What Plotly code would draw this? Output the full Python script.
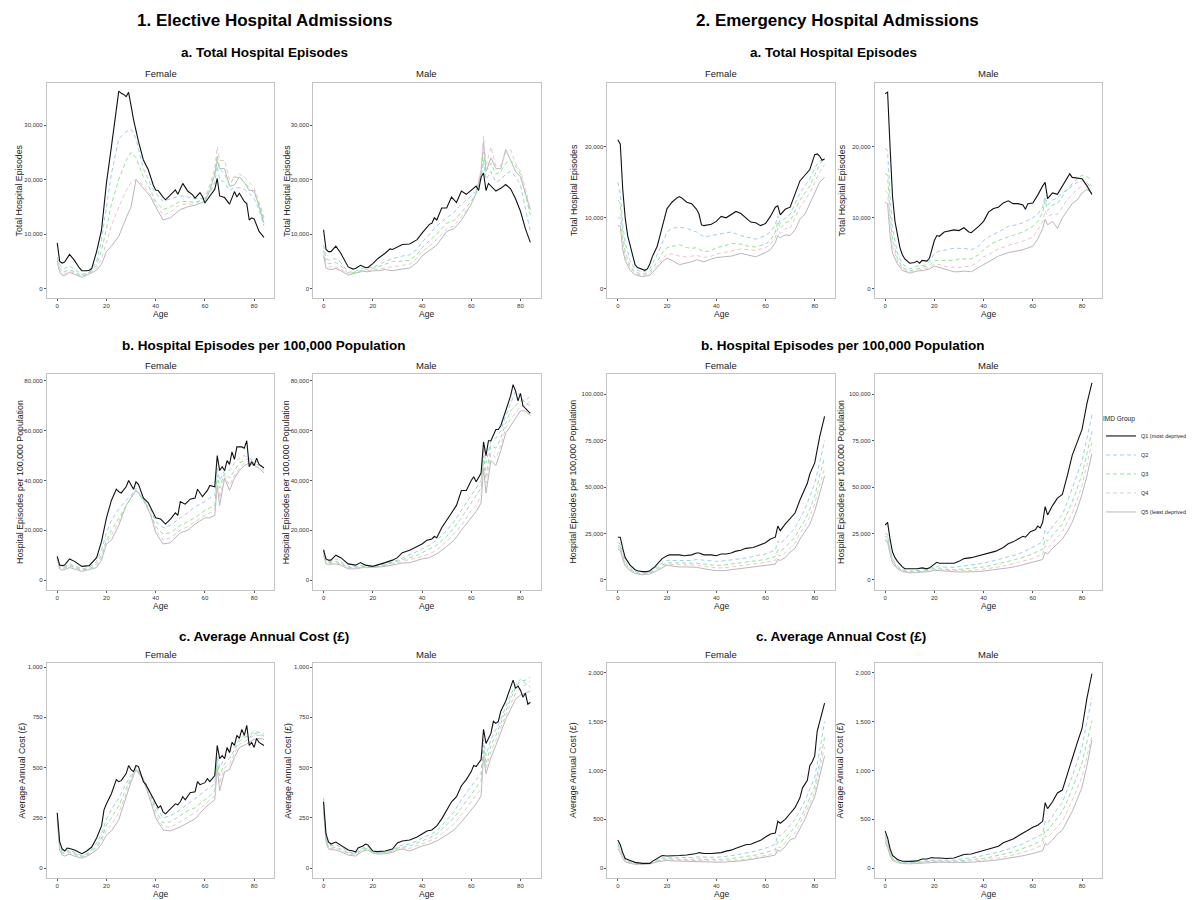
import plotly.graph_objects as go

# ---------------- DATA ----------------
# Common age grid used for Q2-Q5 series
AGES = [0, 1, 2, 3, 5, 7, 10, 13, 16, 18, 20, 22, 25, 28, 30, 32, 35, 38, 40, 43,
        46, 50, 53, 56, 60, 62, 64, 65, 66, 68, 70, 72, 74, 76, 78, 80, 82, 84]

GROUPS = ["Q1 (most deprived)", "Q2", "Q3", "Q4", "Q5 (least deprived)"]
SEXES = ["Female", "Male"]

# ---- 1a Elective, Total Hospital Episodes (thousands) ----
el_tot_f_q1_age = [0,1,2,3,5,7,9,10,12,13,14,16,18,20,22,24,25,26,27,28,29,30,31,33,35,37,39,40,41,43,44,46,48,49,51,53,55,56,58,59,60,62,64,65,66,68,69,70,72,73,74,76,77,78,79,80,82,84]
el_tot_f_q1 = [8.4,5.0,4.7,4.9,6.3,5.2,3.8,3.3,3.3,3.4,3.7,6.8,10.8,19.4,26,33,36.2,35.8,35.6,35.2,36.0,33.5,31,27,23.6,21.8,19,18.1,18.0,16.8,16.3,17.2,18.1,17.3,19.3,17.9,17.2,16.6,17.6,16.9,15.7,17.0,18.2,20.2,17.0,16.7,16.2,15.5,17.8,16.8,17.5,16.0,15.6,12.6,13.0,12.8,10.5,9.4]
el_tot_f_q2 = [5.8,4.5,3.8,3.7,4.2,3.6,2.6,3.0,5.0,9.0,15,21,27.5,28.8,29.2,27.5,22,19,17.5,16.0,16.5,17.0,16.8,16.5,16.5,17.5,19.5,22.5,20,19.5,18.0,18.5,18.5,18.2,17.5,16.5,14.5,11.5]
el_tot_f_q3 = [5.2,3.8,3.2,3.1,3.5,3.1,2.3,2.9,4.3,7,11,15.5,20,23.5,25,24,20.5,18,16,14.5,15,16,16,15.8,16.5,18.5,21,24.5,22,21,19,20.5,20.3,19.5,18.5,17.5,15.5,12.5]
el_tot_f_q4 = [4.8,3.4,2.8,2.7,3.2,2.8,2.2,2.8,3.8,5.5,8.5,11.5,15,18,19.5,20,19,17.2,15.5,13.5,14,15.5,15.5,15.5,16.8,19,22,26,23.5,23.5,20,20.5,21,20.5,19.5,18.5,16,13]
el_tot_f_q5 = [5.0,3.0,2.5,2.4,3.0,2.6,2.1,2.7,3.4,4.5,6.8,7.8,9.6,13.0,15.0,20.0,18.3,16.8,15.0,12.6,13.0,14.5,15.0,15.3,16.0,18.0,21.0,23.5,22.0,22.0,18.8,19.0,20.5,19.5,18.0,18.0,15.0,12.0]

el_tot_m_q1_age = [0,1,2,3,5,7,10,12,13,15,17,18,20,22,25,27,28,30,32,35,38,40,43,44,45,46,48,50,52,54,56,58,60,62,63,64,65,66,67,68,70,72,74,76,78,80,82,84]
el_tot_m_q1 = [10.8,7.2,6.8,6.8,7.8,6.5,4.0,3.6,3.7,4.3,3.9,3.9,4.6,5.5,6.5,7.3,7.2,7.6,8.1,8.2,9.0,10.2,11.8,12.0,13.0,12.6,14.8,14.8,16.8,15.8,17.9,17.3,18.0,18.8,18.0,20.5,21.2,18.0,19.3,18.8,17.9,18.4,19.1,18.3,16.5,14.2,11.0,8.5]
el_tot_m_q2 = [8.0,5.5,5.3,5.3,5.5,4.8,3.0,3.2,3.8,3.9,3.9,4.3,5.0,5.5,5.8,6.0,6.2,7.3,8.5,10,11.5,13.0,14,15.5,17.0,18,20,23.5,20,21.5,19.5,20.0,21.0,21.5,20.5,19,15,10.5]
el_tot_m_q3 = [7.0,4.8,4.6,4.6,4.8,4.2,2.8,3.0,3.5,3.6,3.7,4.0,4.5,5.0,5.0,5.1,5.2,6.3,7.5,8.8,10.0,12,12.5,14,16,17.5,21,25,21.5,23,21,21.5,23,23.5,22.5,21,17.5,13.5]
el_tot_m_q4 = [6.3,4.2,4.0,4.0,4.0,3.6,2.6,2.9,3.3,3.3,3.4,3.6,3.8,4.0,4.2,4.3,4.5,5.6,6.8,7.8,9.0,11,11.5,13.2,15.5,17.5,22,28,22.5,26,22.5,22.5,25,25.5,23,21.5,18.5,14.5]
el_tot_m_q5 = [6.0,3.8,3.6,3.5,3.7,3.3,2.5,2.8,3.2,3.1,3.3,3.3,3.5,3.3,3.4,3.6,3.8,4.8,6.0,7.0,8.0,10.5,11,12.5,15.5,17.5,21.5,27.0,21.5,24.0,22.0,22.0,25.5,23.5,21.5,20.5,17.5,14.5]

# ---- 2a Emergency, Total Hospital Episodes (thousands) ----
em_tot_f_q1_age = [0,1,2,3,4,5,6,7,8,10,11,12,13,14,15,16,17,18,19,20,22,24,25,26,28,30,32,33,34,35,38,40,42,44,46,48,50,52,54,56,58,60,62,64,65,66,68,70,72,74,76,78,80,81,82,83,84]
em_tot_f_q1 = [21.0,20.4,14,10,7.5,6.2,5.0,3.4,3.0,2.8,2.6,2.8,3.5,4.5,5.2,6.0,7.3,8.5,10,11.3,12.2,12.8,13.0,12.8,12.2,12.0,11.2,10.5,9.0,8.9,9.1,9.5,10.2,10.0,10.5,10.9,10.6,10.0,9.4,9.3,8.9,9.2,10.2,11.5,11.7,10.4,11.2,11.5,13.5,15.2,16.0,16.8,18.9,19.0,18.7,18.1,18.3]
em_tot_f_q2 = [15.0,13.5,9.0,6.5,4.0,2.8,2.3,2.8,4.8,6.5,8.0,8.5,8.7,8.5,8.3,8.0,7.3,7.5,7.6,7.8,8.0,7.5,7.3,7.0,7.5,8.0,9.0,10.3,9.2,10.0,10.5,12,13.5,14.5,15.5,17,18,18.3]
em_tot_f_q3 = [12.5,12,7.5,5.2,3.2,2.4,2.0,2.4,3.8,5.0,5.8,6.0,6.2,5.8,5.7,5.8,5.2,5.4,5.8,6.0,6.4,6.3,6.0,5.9,6.3,6.8,8.0,9.5,8.5,9.3,9.5,11,12.5,13.5,14.5,16,17.5,18.5]
em_tot_f_q4 = [10.0,10,6.5,4.5,2.9,2.2,1.8,2.2,3.3,4.2,4.9,4.9,4.6,4.5,4.6,4.7,4.4,4.6,4.9,5.1,5.3,5.6,5.5,5.4,5.8,6.2,7.2,8.5,7.8,8.5,8.5,10,11.5,12.5,13.5,15,16.5,17.5]
em_tot_f_q5 = [8.9,8.8,5.5,4.0,2.6,2.0,1.7,1.9,3.0,3.8,4.3,4.0,3.4,3.6,3.8,4.1,3.8,4.2,4.4,4.5,4.6,5.0,4.8,4.5,5.1,5.5,6.5,7.5,7.2,7.6,7.5,8.3,9.8,10.5,12,13.5,15.0,15.7]

em_tot_m_q1_age = [0,1,2,3,4,5,6,7,8,10,12,13,14,15,17,18,19,20,21,22,24,26,28,30,32,34,35,38,40,42,44,46,48,50,52,54,56,57,58,60,62,64,65,66,68,70,72,74,75,76,78,80,82,84]
em_tot_m_q1 = [27.5,27.7,20,13,9.5,7.5,5.8,4.8,4.2,3.6,3.7,3.9,3.6,4.0,3.9,4.3,5.5,6.8,7.5,7.4,8.0,8.1,8.3,8.2,8.6,8.0,7.9,8.8,9.5,10.8,11.3,11.5,12.1,12.4,12.0,12.0,11.8,11.2,12.0,12.1,13.2,14.5,15.0,12.7,13.5,13.3,14.5,15.5,16.2,15.7,15.6,15.5,14.5,13.3]
em_tot_m_q2 = [19.8,19.5,13,8.5,5.0,3.5,2.8,3.2,3.3,3.8,5.0,5.3,5.5,5.7,5.7,5.7,5.5,6.0,6.8,7.5,8.0,8.8,9.0,9.3,10.0,10.5,11.5,13.0,11.8,12.5,12.8,13.5,14.0,14.5,15.0,15.2,15.0,14.0]
em_tot_m_q3 = [16.2,16,10.5,7,4.3,3.0,2.5,2.8,3.0,3.3,4.0,4.0,3.9,4.0,4.2,4.2,4.2,4.8,5.5,6.3,6.8,7.3,7.6,8.0,8.8,9.5,10.8,12.5,11.0,11.8,12.0,13.0,14.0,14.8,15.5,16.0,15.8,15.3]
em_tot_m_q4 = [13.8,13.5,9,6,3.9,2.8,2.3,2.6,2.8,3.0,3.5,3.4,3.1,3.0,3.0,3.1,3.2,3.9,4.5,5.0,5.6,6.1,6.4,6.7,7.3,8.3,9.5,11.0,10.2,10.5,10.5,11.5,12.5,13.3,14.0,14.5,15.0,14.5]
em_tot_m_q5 = [12.2,12,7.5,5.0,3.5,2.6,2.2,2.5,2.6,2.8,3.2,3.0,2.6,2.4,2.4,2.5,2.4,3.0,3.5,4.0,4.6,5.1,5.3,5.5,6.0,7.0,8.5,9.8,9.0,9.5,8.5,10.0,11.0,12,12.5,13.5,14,13.5]

# ---- 1b Elective, Episodes per 100,000 (thousands) ----
el_rate_f_q1_age = [0,1,2,3,5,7,10,13,16,18,20,22,24,25,26,28,29,30,31,32,33,35,37,40,42,44,46,48,49,50,52,54,56,57,59,61,62,64,65,66,67,68,69,70,71,72,73,75,76,77,78,79,80,81,82,84]
el_rate_f_q1 = [9.5,6.0,5.8,6.0,8.5,7.5,5.5,5.8,9.0,15.5,25,32,36.5,35.5,35,37.5,40,38,36.5,39.5,38.5,33,31,25,24.5,22.5,24.5,27,26,31.5,30.5,32.5,33,36.5,33.5,36.0,38,37.5,50,44,45.5,44,48,46.5,51.5,48.5,53.5,53.5,53,56,45.5,47.5,46,49,46.5,45]
el_rate_f_q2 = [9.5,5.5,5.3,5.5,6.5,5.8,4.5,5,7.5,12,19,24,28.5,32,34,37,32,28,23.5,21,22,25,27,29.5,31.5,33,34,45,40,44,44,47,49,50,49,48,47,45]
el_rate_f_q3 = [9,5,4.8,5,6,5.3,4,4.5,6.5,10,16,20,25,30,33,36,32,26.5,21.5,18.5,19,22,23.5,25,28,29,30,42,37,43,41,44,47,48,49,47,46,44]
el_rate_f_q4 = [8.8,4.8,4.5,4.7,5.5,5,3.8,4.3,5.5,9,15,18,23.5,30,33,36,32.5,26,20,16,17,20,21.5,23.5,26,27,28,40,33,42,38,42,45,47,48,47,45,43.5]
el_rate_f_q5 = [8.5,4.5,4.0,4.2,5.0,4.5,3.5,4.2,5.0,8,14.5,16.0,22,30,33,36,33,26,19,14.5,15,19,20,22.5,25,25,26,38,30,41,36,41,44,46,47,46,45,43]

el_rate_m_q1_age = [0,1,2,3,5,7,10,13,15,17,20,22,25,28,30,32,35,38,40,42,44,45,46,48,50,52,54,56,58,60,61,62,64,65,66,67,68,70,71,72,74,76,77,78,79,80,81,82,84]
el_rate_m_q1 = [12,8.5,8,8,10,9,6.5,6,7,6,5.5,6,7,8,9,11,12,13.5,14.5,16,16.5,17.5,17,21,24,27,30,36,36,40,41.5,39.5,43,55.5,50,56,56,60.5,60.5,62,68,74,78.5,76,72,75,70,69,67]
el_rate_m_q2 = [12.5,8,7.5,7.5,8.5,7.5,5.5,5.5,6,5.8,5.5,5.8,6.5,7.3,8,8.8,10,11.5,12.5,14,16,20,23.5,28,34,37,40,53,47,56,57,60,66,71,76,74,71,70]
el_rate_m_q3 = [12,7.5,7,7,7.5,6.8,5.0,5.0,5.5,5.3,5.2,5.5,6.0,7,7.5,8.2,9,10,11,12.5,14,17.5,21,25,31,34,37,50,42,54,53,57,63,68,70,72,72,74]
el_rate_m_q4 = [11,7,6.5,6.5,7,6.3,4.8,4.8,5.2,5.1,5.0,5.3,5.8,6.5,7,7.5,8,9,9.5,10.5,12,15.5,18.5,22,28,30,34,48,39,51,49,54,61,65,67,70,70,72]
el_rate_m_q5 = [10,6.5,6.3,6.3,6.5,6,4.5,4.5,5.0,5.0,5.0,5.2,5.5,6,6.5,6.8,7,8,8.5,9,10.5,13.5,16,20,25,27.5,31,45,35,48,46,52,59,62,65,68,68,66]

# ---- 2b Emergency, Episodes per 100,000 (thousands) ----
em_rate_f_q1_age = [0,1,2,3,5,7,8,10,12,13,15,17,18,20,21,25,27,30,32,33,35,38,40,42,44,46,48,50,52,55,57,60,62,64,65,66,68,70,72,74,76,77,78,80,82,84]
em_rate_f_q1 = [23,23,17,12,8,5.5,5,4.5,4.5,5,7,10,11.5,13,13.5,13.5,13,13.5,14.5,14.5,13.5,13.5,13,14,14,14.5,15.5,16,17,17.5,18.5,20,22,23,29,26.5,30,33,36,43,49,52,57,63,77,88]
em_rate_f_q2 = [20,19.5,14,10,6.5,4.5,3.8,4,7.5,9,10.5,10.5,10.5,10.5,10.5,11,10.5,10,10,10.3,10.8,11.5,12,13,14,15,16,21,19.5,22,25,28,33,38,45,52,63,75]
em_rate_f_q3 = [18.5,18,12.5,9,5.8,4.0,3.3,3.6,6.5,8,9.3,9.2,9,9,9,9,8.5,8,7.8,8,8.5,9,9.5,10,11,12,12.5,16,15.5,17.5,20,23,28,32,38,45,56,66]
em_rate_f_q4 = [17.5,17,11.8,8.2,5.3,3.7,3.0,3.4,5.8,7.2,8.6,8.3,8,8,8,8,7.3,6.8,6.5,6.5,7,7.5,8,8.5,9.5,10,10.5,13.5,13,14.5,17,20,25,29,34,41,51,60]
em_rate_f_q5 = [16.5,16,11,7.5,5,3.5,2.8,3.2,5,6.5,8,7.5,7,7,7,6.8,6.0,5.5,5,5,5.5,6,6.5,7,7.5,8,8.5,11,10.5,12,15,17,22,26,30,37,47,56]

em_rate_m_q1_age = [0,1,2,3,4,5,7,8,10,13,15,17,18,20,21,22,25,28,30,32,35,38,40,42,45,48,50,52,54,56,57,59,60,61,62,63,64,65,66,68,70,72,74,76,78,80,82,84]
em_rate_m_q1 = [29.5,31,22,15,12,10,7,6,6,6,6.5,6,6.5,8.5,9.5,9,9,9,10,11.5,12,13,13.5,14.5,15.5,17.5,19.5,20.5,22,23.5,23,26,26.5,27,29,28,31,39.5,35,40,44,46,56,67,74,81,95,106]
em_rate_m_q2 = [25,24.5,17,11.5,7.5,5.5,4.8,5,5.3,6,7.2,7,6.8,6.8,7.2,7.5,8,8.5,9,10,11,12.5,13.5,15,17.5,19,20.5,27,25,29,32,35,42,49,56,64,76,89]
em_rate_m_q3 = [23.5,23,15.5,10.5,6.8,5,4.3,4.5,4.7,5.3,6.3,6,5.7,5.5,5.7,5.9,6.2,6.5,7,7.8,8.7,10,11,12.2,14,15.5,16.5,22,21,24,27,30,36,42,49,57,68,80]
em_rate_m_q4 = [22,21.5,14.5,9.8,6.3,4.7,4,4.2,4.3,4.9,5.7,5.5,5,4.9,5,5,5.2,5.5,5.8,6.3,7,8,9,10,11.5,12.8,13.5,18.5,17,20,23,26,31,36,43,51,62,74]
em_rate_m_q5 = [21,20.5,14,9,6,4.5,3.8,4,4.0,4.5,5.2,5,4.5,4.3,4.3,4.3,4.3,4.5,4.8,5.2,5.7,6.5,7.2,8.2,9.5,10.5,11,15,14,17,19.5,22,26,31,38,46,56,68]

# ---- 1c Elective, Average Annual Cost (GBP) ----
el_cost_f_q1_age = [0,1,2,3,4,5,7,8,10,12,14,16,18,19,20,22,24,25,26,28,29,30,31,32,33,35,36,38,40,41,42,43,44,46,48,49,50,51,52,54,56,57,58,60,61,62,64,65,66,67,68,69,70,71,72,73,74,75,76,77,78,79,80,81,82,84]
el_cost_f_q1 = [275,130,95,85,100,98,90,85,72,85,105,150,210,290,320,370,440,430,435,470,510,490,480,510,505,430,415,370,320,300,310,280,270,295,320,315,330,355,340,375,380,430,415,425,445,430,460,610,545,560,545,600,575,625,610,660,645,690,660,710,610,625,600,645,625,610]
el_cost_f_q2 = [275,115,85,85,90,80,62,78,125,170,245,290,350,420,465,500,445,370,305,250,260,290,320,345,385,400,420,560,500,550,575,600,640,660,650,670,665,660]
el_cost_f_q3 = [260,105,78,78,82,72,58,72,110,150,215,250,310,395,450,500,445,360,285,225,230,260,285,300,340,360,385,530,460,520,545,585,630,650,660,680,675,670]
el_cost_f_q4 = [250,98,72,72,76,68,54,68,100,135,190,215,275,370,440,495,445,345,265,205,205,230,255,275,320,340,360,515,420,500,515,570,615,630,645,660,660,655]
el_cost_f_q5 = [240,90,65,60,70,60,50,65,90,120,165,185,240,350,430,490,440,330,250,190,185,205,225,245,300,320,340,500,385,480,490,550,600,610,625,640,645,640]

el_cost_m_q1_age = [0,1,2,3,5,7,10,12,13,14,16,17,18,20,22,25,28,30,32,35,38,40,42,44,46,48,50,52,54,56,58,60,61,62,64,65,66,68,69,70,71,72,74,76,77,78,79,80,81,82,83,84]
el_cost_m_q1 = [330,170,130,120,130,115,90,85,80,100,110,120,115,85,82,85,95,125,135,140,155,170,185,190,210,245,290,330,355,410,440,480,510,505,540,690,620,670,730,720,730,780,830,900,935,895,905,885,850,870,815,825]
el_cost_m_q2 = [350,150,115,112,115,105,80,75,100,105,80,78,80,88,105,115,120,135,150,165,185,240,280,340,410,440,470,640,560,640,690,740,800,860,910,940,920,900]
el_cost_m_q3 = [330,140,105,103,105,95,75,70,95,100,78,75,78,85,100,105,110,125,135,150,170,215,250,300,370,400,430,610,520,610,660,720,780,840,900,930,935,950]
el_cost_m_q4 = [300,135,100,98,98,90,70,65,90,95,76,72,75,82,95,100,98,112,122,135,150,190,220,265,330,360,395,585,495,580,635,700,760,815,870,895,910,930]
el_cost_m_q5 = [280,130,95,92,90,82,65,60,85,90,75,70,72,78,90,95,85,100,110,120,135,165,190,230,290,320,360,560,470,550,610,680,740,790,840,860,870,880]

# ---- 2c Emergency, Average Annual Cost (GBP) ----
em_cost_f_q1_age = [0,1,2,3,5,7,10,13,14,16,18,20,22,25,28,30,32,33,35,38,40,42,44,46,48,50,52,54,56,58,60,62,64,65,66,68,70,72,74,75,77,78,79,80,81,82,84]
em_cost_f_q1 = [290,240,160,100,80,60,50,50,70,100,130,125,130,130,135,140,150,160,150,150,155,160,175,185,205,225,240,245,265,285,320,350,360,480,460,500,560,620,720,820,900,1050,1090,1150,1400,1500,1690]
em_cost_f_q2 = [260,210,140,90,65,50,45,48,85,105,105,105,105,105,110,115,112,110,112,118,128,145,160,175,205,225,245,340,330,380,440,500,590,690,810,930,1200,1500]
em_cost_f_q3 = [240,190,125,80,58,45,42,46,75,92,95,92,90,90,92,95,90,88,88,92,98,110,122,135,160,175,190,275,265,310,370,420,510,600,720,840,1080,1340]
em_cost_f_q4 = [220,175,112,72,54,42,40,45,70,83,87,83,80,80,80,82,78,75,73,74,78,88,100,110,130,145,160,220,210,260,320,360,460,550,660,780,1000,1240]
em_cost_f_q5 = [200,160,100,65,50,40,38,45,65,75,80,75,72,72,72,72,68,64,62,62,65,75,85,95,115,125,135,185,175,220,290,310,410,500,620,730,940,1150]

em_cost_m_q1_age = [0,1,2,3,5,7,10,13,15,17,19,20,22,25,28,30,32,35,38,40,42,44,46,48,50,52,54,56,58,60,62,64,65,66,68,70,72,74,76,78,80,82,84]
em_cost_m_q1 = [380,310,200,130,90,72,70,75,95,95,110,105,105,100,105,120,140,145,165,180,195,210,225,260,280,300,330,360,390,420,440,480,670,610,680,770,800,950,1120,1280,1430,1740,1990]
em_cost_m_q2 = [340,270,175,110,75,62,58,62,72,80,85,82,80,82,90,100,108,120,130,145,165,195,220,250,300,325,350,480,460,530,610,670,800,940,1090,1240,1500,1740]
em_cost_m_q3 = [310,245,155,97,67,55,52,56,65,72,76,73,70,70,75,80,86,95,102,115,130,155,175,200,240,265,285,400,385,450,520,580,690,810,940,1080,1300,1510]
em_cost_m_q4 = [290,225,142,88,62,50,48,52,60,66,70,67,64,63,66,68,72,78,84,93,105,125,142,162,195,215,235,330,315,370,430,480,580,690,810,940,1150,1350]
em_cost_m_q5 = [270,210,130,80,58,48,45,50,55,60,65,62,60,58,58,60,62,66,70,77,86,100,112,128,150,165,180,250,240,290,350,390,490,580,700,830,1050,1310]

# Y tick values per measure
TICKS_EL_TOT = [0, 10000, 20000, 30000]
TICKS_EM_TOT = [0, 10000, 20000]
TICKS_EL_RATE = [0, 20000, 40000, 60000, 80000]
TICKS_EM_RATE = [0, 25000, 50000, 75000, 100000]
TICKS_EL_COST = [0, 250, 500, 750, 1000]
TICKS_EM_COST = [0, 500, 1000, 1500, 2000]
X_TICKS = [0, 20, 40, 60, 80]

# ---------------- STYLE / LAYOUT ----------------
# The page body has an 8px margin, so the figure is offset by 8px.
OFF = 8
W, H = 1194 - OFF, 900 - OFF
FONT = "Liberation Sans, Arial, Helvetica, sans-serif"
COLORS = ["#111111", "#9ccfe8", "#93e393", "#ecc4d2", "#b9b6bc"]
DASHES = ["solid", "4px,3px", "4px,3px", "4px,3px", "solid"]
WIDTHS = [1.1, 1.0, 1.0, 1.0, 1.0]


def fx(px):
    return (px - OFF) / W


def fy(py):
    return 1 - (py - OFF) / H


COLS_PX = [(47, 275), (314, 542), (609, 837), (877, 1105)]
ROWS_PX = [(83, 298), (374, 590), (663, 878)]
# distance (px) from panel left edge to centre of the rotated y title
YT_OFF = [[27, 26, 33, 32], [27, 27, 35, 34], [25, 26, 35, 35]]

panels = [
    # row, col, q1_age, series, scale, yrange, ticks, ytitle
    (0, 0, el_tot_f_q1_age, [el_tot_f_q1, el_tot_f_q2, el_tot_f_q3, el_tot_f_q4, el_tot_f_q5], 1000, [-1700, 37700], TICKS_EL_TOT, "Total Hospital Episodes"),
    (0, 1, el_tot_m_q1_age, [el_tot_m_q1, el_tot_m_q2, el_tot_m_q3, el_tot_m_q4, el_tot_m_q5], 1000, [-1700, 37700], TICKS_EL_TOT, "Total Hospital Episodes"),
    (0, 2, em_tot_f_q1_age, [em_tot_f_q1, em_tot_f_q2, em_tot_f_q3, em_tot_f_q4, em_tot_f_q5], 1000, [-1300, 29000], TICKS_EM_TOT, "Total Hospital Episodes"),
    (0, 3, em_tot_m_q1_age, [em_tot_m_q1, em_tot_m_q2, em_tot_m_q3, em_tot_m_q4, em_tot_m_q5], 1000, [-1300, 29000], TICKS_EM_TOT, "Total Hospital Episodes"),
    (1, 0, el_rate_f_q1_age, [el_rate_f_q1, el_rate_f_q2, el_rate_f_q3, el_rate_f_q4, el_rate_f_q5], 1000, [-4000, 82800], TICKS_EL_RATE, "Hospital Episodes per 100,000 Population"),
    (1, 1, el_rate_m_q1_age, [el_rate_m_q1, el_rate_m_q2, el_rate_m_q3, el_rate_m_q4, el_rate_m_q5], 1000, [-4000, 82800], TICKS_EL_RATE, "Hospital Episodes per 100,000 Population"),
    (1, 2, em_rate_f_q1_age, [em_rate_f_q1, em_rate_f_q2, em_rate_f_q3, em_rate_f_q4, em_rate_f_q5], 1000, [-5400, 110800], TICKS_EM_RATE, "Hospital Episodes per 100,000 Population"),
    (1, 3, em_rate_m_q1_age, [em_rate_m_q1, em_rate_m_q2, em_rate_m_q3, em_rate_m_q4, em_rate_m_q5], 1000, [-5400, 110800], TICKS_EM_RATE, "Hospital Episodes per 100,000 Population"),
    (2, 0, el_cost_f_q1_age, [el_cost_f_q1, el_cost_f_q2, el_cost_f_q3, el_cost_f_q4, el_cost_f_q5], 1, [-49, 1020], TICKS_EL_COST, "Average Annual Cost (£)"),
    (2, 1, el_cost_m_q1_age, [el_cost_m_q1, el_cost_m_q2, el_cost_m_q3, el_cost_m_q4, el_cost_m_q5], 1, [-49, 1020], TICKS_EL_COST, "Average Annual Cost (£)"),
    (2, 2, em_cost_f_q1_age, [em_cost_f_q1, em_cost_f_q2, em_cost_f_q3, em_cost_f_q4, em_cost_f_q5], 1, [-100, 2100], TICKS_EM_COST, "Average Annual Cost (£)"),
    (2, 3, em_cost_m_q1_age, [em_cost_m_q1, em_cost_m_q2, em_cost_m_q3, em_cost_m_q4, em_cost_m_q5], 1, [-100, 2100], TICKS_EM_COST, "Average Annual Cost (£)"),
]

fig = go.Figure()
layout = {}
annotations = []
YT_FONT = dict(size=8.8, color="#222222", family=FONT)
XT_FONT = dict(size=8.5, color="#222222", family=FONT)

for idx, (r, c, q1_age, series, scale, yr, ticks, ytitle) in enumerate(panels):
    n = idx + 1
    xa = "x" if n == 1 else f"x{n}"
    ya = "y" if n == 1 else f"y{n}"
    x0, x1 = COLS_PX[c]
    t0, t1 = ROWS_PX[r]
    # draw Q5 first so Q1 sits on top
    for g in [4, 3, 2, 1, 0]:
        ages = q1_age if g == 0 else AGES
        vals = series[g]
        m = min(len(ages), len(vals))
        fig.add_trace(go.Scatter(
            x=ages[:m], y=[v * scale for v in vals[:m]],
            mode="lines", name=GROUPS[g], legendgroup=GROUPS[g],
            legendrank=g + 1, showlegend=(n == 1),
            line=dict(color=COLORS[g], width=WIDTHS[g], dash=DASHES[g]),
            xaxis=xa, yaxis=ya, hoverinfo="skip"))
    common = dict(showline=True, mirror=True, linecolor="#c4c4c4", linewidth=1,
                  showgrid=False, zeroline=False, ticks="outside", ticklen=2,
                  tickcolor="#555555", tickwidth=0.8,
                  tickfont=dict(size=6, color="#333333", family=FONT))
    layout["xaxis" if n == 1 else f"xaxis{n}"] = dict(
        common, domain=[fx(x0), fx(x1)], anchor=ya, range=[-4.2, 88.2],
        tickvals=X_TICKS)
    layout["yaxis" if n == 1 else f"yaxis{n}"] = dict(
        common, domain=[fy(t1), fy(t0)], anchor=xa, range=yr,
        tickvals=ticks, tickformat=",")
    # facet label
    annotations.append(dict(text=SEXES[c % 2], x=fx((x0 + x1) / 2), y=fy(t0 - 9),
                            xref="paper", yref="paper", showarrow=False,
                            xanchor="center", yanchor="middle",
                            font=dict(size=9.5, color="#222222", family=FONT)))
    # x axis title
    annotations.append(dict(text="Age", x=fx((x0 + x1) / 2), y=fy(t1 + 9),
                            xref="paper", yref="paper", showarrow=False,
                            xanchor="center", yanchor="top", font=XT_FONT))
    # y axis title
    annotations.append(dict(text=ytitle, x=fx(x0 - YT_OFF[r][c]), y=fy((t0 + t1) / 2),
                            xref="paper", yref="paper", showarrow=False, textangle=-90,
                            xanchor="center", yanchor="middle", font=YT_FONT))

# titles
for txt, xp, yp, size in [
    ("1. Elective Hospital Admissions", 265, 20, 17),
    ("2. Emergency Hospital Admissions", 840, 20, 17),
    ("a. Total Hospital Episodes", 265, 52, 13.5),
    ("a. Total Hospital Episodes", 836, 52, 13.5),
    ("b. Hospital Episodes per 100,000 Population", 265, 345, 13.5),
    ("b. Hospital Episodes per 100,000 Population", 845, 345, 13.5),
    ("c. Average Annual Cost (£)", 265, 636, 13.5),
    ("c. Average Annual Cost (£)", 843, 636, 13.5),
]:
    annotations.append(dict(text=f"<b>{txt}</b>", x=fx(xp), y=fy(yp),
                            xref="paper", yref="paper", showarrow=False,
                            xanchor="center", yanchor="middle",
                            font=dict(size=size, color="#000000", family=FONT)))

fig.update_layout(
    width=W, height=H, autosize=False,
    margin=dict(l=0, r=0, t=0, b=0),
    paper_bgcolor="white", plot_bgcolor="white",
    font=dict(family=FONT, color="#222222"),
    annotations=annotations,
    legend=dict(x=fx(1104), y=fy(413), xanchor="left", yanchor="top",
                title=dict(text="IMD Group", font=dict(size=6.5, color="#222222")),
                font=dict(size=5.5, color="#222222"), bgcolor="rgba(0,0,0,0)",
                itemwidth=30, tracegroupgap=0),
    **layout,
)

fig.write_html("out.html")
